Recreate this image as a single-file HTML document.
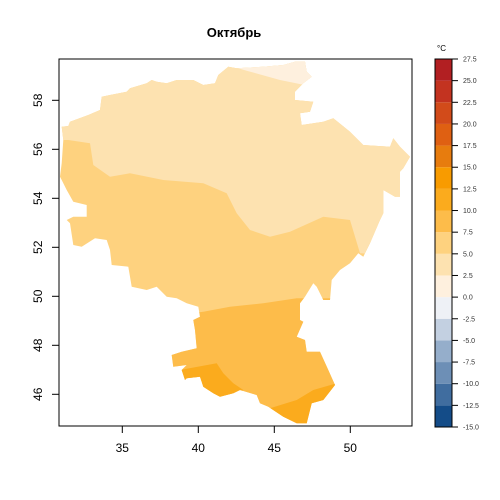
<!DOCTYPE html>
<html><head><meta charset="utf-8"><style>
html,body{margin:0;padding:0;background:#fff;}
svg{display:block;font-family:"Liberation Sans",Arial,sans-serif;}
</style></head><body>
<svg id="chart" width="500" height="500" viewBox="0 0 500 500">
<defs>
<clipPath id="region"><polygon id="outline" points=""/></clipPath>
</defs>
<text x="234" y="37" text-anchor="middle" font-size="13" font-weight="bold">Октябрь</text>
<g id="map" clip-path="url(#region)"></g>
<rect x="59" y="59" width="353" height="367" fill="none" stroke="#000" stroke-width="1"/>
<g id="axes"></g>
<g id="legend"></g>
</svg>
<script>
// axis data
const xTicks = [35, 40, 45, 50];
const yTicks = [46, 48, 50, 52, 54, 56, 58];
// legend data
const levelBreaks = [-15, -12.5, -10, -7.5, -5, -2.5, 0, 2.5, 5, 7.5, 10, 12.5, 15, 17.5, 20, 22.5, 25, 27.5];
const levelColors = ["#144c88","#406d9f","#6d8fb6","#95aecb","#c3d0e1","#eef1f6","#fef0de","#fde2b0","#fed27f","#fdbc4a","#fbab1d","#f89b00","#e77c0e","#df6012","#d24b1a","#c33320","#b21f22"];
// map zone levels (index into levelColors), drawn as regions
const zoneLevels = [8, 7, 6, 9, 10, 10];

const NS = "http://www.w3.org/2000/svg";
const xScale = lon => 122.3 + (lon - 35) * 15.2;
const yScale = lat => 100.3 - (lat - 58) * 24.5;
const lScale = v => 427 - (v + 15) / 42.5 * 368;
function mk(tag, attrs, parent){const e=document.createElementNS(NS,tag);for(const k in attrs)e.setAttribute(k,attrs[k]);parent.appendChild(e);return e;}
// zoom-coordinate shapes -> pixel
const cv = s => s.trim().split(/\s+/).map(p=>{const [a,b]=p.split(',').map(Number);return (a/3+30).toFixed(1)+','+(b/3+50).toFixed(1);}).join(' ');
const outline = "95,230 115,228 120,215 175,195 210,180 215,140 240,135 290,125 300,115 350,100 365,90 380,95 410,100 440,90 490,90 520,105 555,100 565,75 595,50 620,55 700,50 760,45 795,35 825,35 830,65 845,80 820,100 795,125 795,150 850,155 840,185 810,190 815,225 880,215 910,205 960,245 1000,285 1080,290 1090,265 1110,290 1140,320 1120,355 1110,365 1110,440 1095,440 1060,420 1060,490 1050,510 1020,580 1000,620 985,610 960,640 930,660 905,690 900,750 880,750 860,710 850,700 825,740 810,760 810,810 820,815 800,860 825,870 830,905 870,905 895,960 915,1005 880,1050 845,1060 830,1120 800,1120 760,1100 715,1070 690,1060 680,1035 630,1020 610,1030 570,1040 550,1030 520,1010 510,980 470,985 465,990 455,960 470,945 430,950 425,915 455,905 500,895 495,840 490,810 510,800 505,770 470,760 440,745 410,740 380,710 350,720 305,710 295,650 245,645 240,600 230,570 195,565 155,590 130,585 120,520 110,510 130,500 170,500 170,465 130,455 110,420 95,390 90,380 95,340 100,270";
document.getElementById('outline').setAttribute('points', cv(outline));
const zones = [
 "0,0 1200,0 1200,1200 0,1200",
 "0,0 1200,0 1200,620 990,610 960,510 880,500 780,545 720,560 660,540 620,490 590,430 520,400 400,390 300,370 240,380 190,345 180,280 115,270 0,270",
 "590,45 840,25 850,110 750,90 650,62",
 "400,800 520,785 600,770 700,760 800,745 1200,745 1200,1200 400,1200",
 "450,960 560,940 580,970 610,1000 640,1020 590,1050 520,1020 455,995",
 "720,1075 800,1050 850,1020 920,1000 920,1200 700,1200"
];
const mapG = document.getElementById('map');
zones.forEach((z,i)=>{
  const p = mk('polygon',{points:cv(z),fill:levelColors[zoneLevels[i]]},mapG);
  
  
});
const ax = document.getElementById('axes');
xTicks.forEach(v=>{
  const x=xScale(v);
  const t=mk('line',{x1:x,x2:x,y1:426,y2:433,stroke:'#000'},ax);
  
  
  const l=mk('text',{x:x,y:452,'text-anchor':'middle','font-size':12},ax);
  l.textContent=v;
  
  
});
yTicks.forEach(v=>{
  const y=yScale(v);
  const t=mk('line',{x1:52,x2:59,y1:y,y2:y,stroke:'#000'},ax);
  
  
  const l=mk('text',{x:0,y:0,'text-anchor':'middle','font-size':12,transform:`translate(42,${y}) rotate(-90)`},ax);
  l.textContent=v;
  
  
});
const lg = document.getElementById('legend');
levelColors.forEach((c,i)=>{
  const y1=lScale(levelBreaks[i+1]), y0=lScale(levelBreaks[i]);
  const r=mk('rect',{x:435,y:y1,width:17,height:y0-y1,fill:c},lg);
  
  
});
mk('rect',{x:435,y:lScale(27.5),width:17,height:lScale(-15)-lScale(27.5),fill:'none',stroke:'#000'},lg);
levelBreaks.forEach(v=>{
  const y=lScale(v);
  mk('line',{x1:452,x2:458,y1:y,y2:y,stroke:'#000'},lg);
  const l=mk('text',{x:463,y:y+2.5,'font-size':7,fill:'#333'},lg);
  l.textContent=v.toFixed(1);
  
  
});
const u=mk('text',{x:437,y:51,'font-size':8},lg);
u.textContent='°C';


</script>
</body></html>
